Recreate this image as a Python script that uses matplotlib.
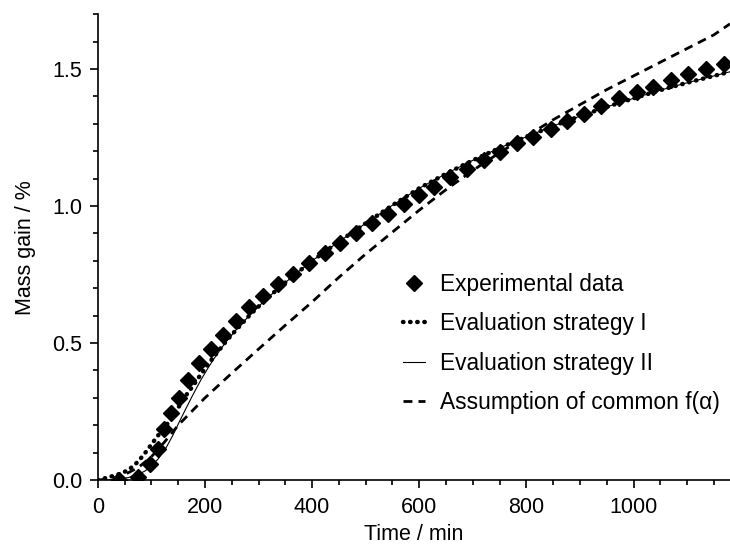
import matplotlib
matplotlib.use("Agg")
import matplotlib.pyplot as plt
from matplotlib.ticker import MultipleLocator

plt.rcParams['font.family'] = ['Liberation Sans', 'DejaVu Sans']

# experimental points
t_exp = [40, 75, 98, 113, 123, 137, 152, 169, 189, 211, 234, 257, 282, 309,
         337, 365, 394, 424, 452, 482, 511, 541, 571, 599, 627, 658, 689, 720,
         751, 782, 813, 845, 875, 908, 940, 973, 1006, 1037, 1070, 1102, 1136, 1169]
m_exp = [0.00, 0.01, 0.057, 0.115, 0.185, 0.245, 0.30, 0.365, 0.426, 0.477,
         0.53, 0.58, 0.632, 0.672, 0.715, 0.752, 0.793, 0.83, 0.864, 0.90,
         0.937, 0.97, 1.007, 1.04, 1.07, 1.105, 1.135, 1.168, 1.198, 1.229,
         1.253, 1.283, 1.31, 1.336, 1.365, 1.393, 1.417, 1.433, 1.46, 1.482,
         1.499, 1.517]

# model curves
t_fit = [0, 20, 40, 57, 75, 88, 100, 113, 128, 140, 152, 165, 178, 192, 206,
         222, 240, 260, 285, 310, 340, 370, 400, 450, 500, 550, 600, 650, 700,
         750, 800, 850, 900, 950, 1000, 1050, 1100, 1150, 1180]
m_strat1 = [0, 0.01, 0.022, 0.036, 0.067, 0.098, 0.13, 0.164, 0.2, 0.235,
            0.27, 0.31, 0.345, 0.385, 0.423, 0.463, 0.508, 0.552, 0.605,
            0.652, 0.705, 0.753, 0.80, 0.87, 0.937, 1.003, 1.065, 1.118,
            1.167, 1.212, 1.253, 1.292, 1.328, 1.362, 1.393, 1.423, 1.45,
            1.475, 1.49]
m_strat2 = [0, 0.001, 0.004, 0.009, 0.02, 0.033, 0.05, 0.078, 0.12, 0.163,
            0.212, 0.263, 0.313, 0.364, 0.41, 0.458, 0.506, 0.552, 0.605,
            0.652, 0.705, 0.753, 0.80, 0.87, 0.937, 1.003, 1.065, 1.118,
            1.167, 1.212, 1.253, 1.292, 1.328, 1.362, 1.393, 1.423, 1.45,
            1.475, 1.49]

t_common = [0, 25, 50, 75, 100, 125, 150, 175, 200, 250, 300, 350, 400, 450,
            500, 550, 600, 650, 700, 750, 800, 850, 900, 950, 1000, 1050,
            1100, 1150, 1180]
m_common = [0, 0.005, 0.02, 0.045, 0.085, 0.14, 0.20, 0.25, 0.30, 0.39,
            0.478, 0.565, 0.65, 0.74, 0.825, 0.905, 0.985, 1.06, 1.13, 1.195,
            1.255, 1.315, 1.37, 1.425, 1.475, 1.525, 1.575, 1.625, 1.665]

fig = plt.figure(figsize=(7.3, 5.48), dpi=100)
ax = fig.add_axes([0.134, 0.124, 0.866, 0.850])

ax.plot(t_exp, m_exp, linestyle='none', marker='D', markersize=8,
        color='black', label='Experimental data')
ax.plot(t_fit, m_strat1, color='black', linewidth=3.2,
        linestyle=(0, (0.1, 1.5)), dash_capstyle='round',
        label='Evaluation strategy I')
ax.plot(t_fit, m_strat2, color='black', linewidth=0.8,
        label='Evaluation strategy II')
ax.plot(t_common, m_common, color='black', linewidth=2.0,
        linestyle=(0, (3.2, 2.2)), label='Assumption of common f(α)')

ax.set_xlim(0, 1180)
ax.set_ylim(0, 1.7)
ax.xaxis.set_major_locator(MultipleLocator(200))
ax.xaxis.set_minor_locator(MultipleLocator(50))
ax.yaxis.set_major_locator(MultipleLocator(0.5))
ax.yaxis.set_minor_locator(MultipleLocator(0.1))
ax.yaxis.set_major_formatter(plt.FormatStrFormatter('%.1f'))

for s in ['top', 'right']:
    ax.spines[s].set_visible(False)
for s in ['left', 'bottom']:
    ax.spines[s].set_linewidth(1.2)
ax.tick_params(which='major', direction='out', length=6, width=1.2,
               labelsize=15.5, pad=5)
ax.tick_params(axis='x', which='major', pad=6)
ax.tick_params(which='minor', direction='out', length=3.5, width=1.2)

ax.set_xlabel('Time / min', fontsize=15.5, labelpad=4.5)
ax.set_ylabel('Mass gain / %', fontsize=15.5, labelpad=12)

ax.legend(loc='upper left', bbox_to_anchor=(0.483, 0.445), frameon=False,
          fontsize=16.4, handlelength=0.97, labelspacing=0.72,
          handletextpad=0.66, borderaxespad=0, borderpad=0)

fig.savefig('out.png', dpi=100)
